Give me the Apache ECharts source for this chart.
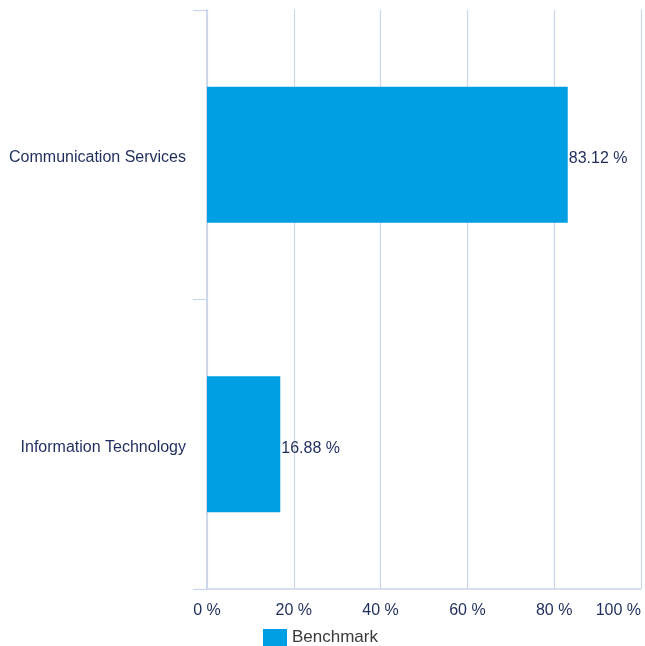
<!DOCTYPE html>
<html><head><meta charset="utf-8">
<script src="https://cdn.jsdelivr.net/npm/echarts@6/dist/echarts.min.js"></script>
<style>html,body{margin:0;padding:0;background:#fff}#c{width:645px;height:646px}</style>
</head><body><div id="c"></div>
<script>
const categories = ['Communication Services', 'Information Technology'];
const benchmark = [83.12, 16.88];
const seriesName = 'Benchmark';
const xTicks = [0, 20, 40, 60, 80, 100];

const chart = echarts.init(document.getElementById('c'));
const axisCol = '#ccd6eb';
const textCol = '#1f2d5c';
chart.setOption({
  animation: false,
  textStyle: { fontFamily: 'Liberation Sans, Arial, sans-serif' },
  grid: { left: 207, right: 4, top: 10, bottom: 57, containLabel: false },
  xAxis: {
    type: 'value', min: xTicks[0], max: xTicks[xTicks.length - 1], interval: 20,
    axisLine: { show: true, lineStyle: { color: axisCol, width: 1.5 } }, axisTick: { show: false },
    splitLine: { show: true, lineStyle: { color: axisCol, width: 1.2 } },
    axisLabel: { color: textCol, fontSize: 16, margin: 14, formatter: v => v + ' %', alignMaxLabel: 'right' }
  },
  yAxis: {
    type: 'category', data: categories, inverse: true,
    axisLine: { show: true, lineStyle: { color: axisCol, width: 1.8 } },
    axisTick: { show: true, length: 14, lineStyle: { color: axisCol, width: 1.2 } },
    axisLabel: { color: textCol, fontSize: 16, margin: 21, verticalAlign: 'top', lineHeight: 18, padding: [-6, 0, 0, 0] }
  },
  legend: {
    top: 624, left: 258, itemWidth: 24, itemHeight: 17, itemGap: 8,
    textStyle: { color: '#3a3a3a', fontSize: 17 }, icon: 'rect', data: [seriesName]
  },
  series: [{
    name: seriesName, type: 'bar', data: benchmark, barWidth: '47%',
    itemStyle: { color: '#009fe3' },
    label: { show: true, position: 'right', distance: 1, offset: [0, 4], color: textCol, fontSize: 16, formatter: p => p.value.toFixed(2) + ' %' }
  }]
});
</script></body></html>
